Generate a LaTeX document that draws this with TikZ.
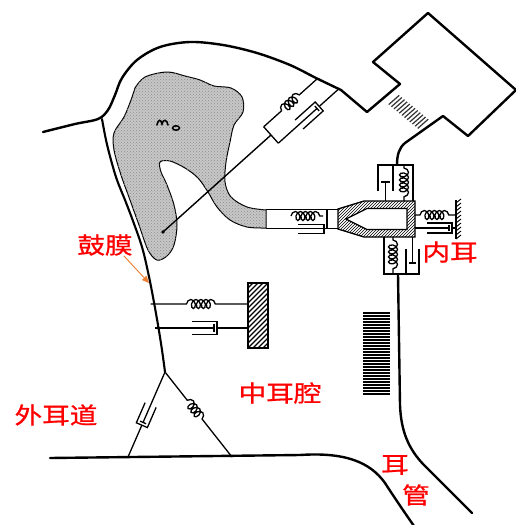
\documentclass[tikz,border=0pt]{standalone}
\usepackage{fontspec}
\newfontfamily\cjk[FakeBold=0.8]{Noto Sans CJK SC}
\usetikzlibrary{decorations.pathmorphing,patterns,arrows.meta,calc}
\definecolor{labelred}{RGB}{255,0,0}
\definecolor{arroworange}{RGB}{237,125,49}
\newcommand\wlabel[1]{\scalebox{1.2}[1]{#1}}
\tikzset{
  wall/.style={line width=2.4pt, line cap=round, line join=round},
  membrane/.style={line width=2.1pt, line cap=round},
  mech/.style={line width=1.3pt},
  coilspring/.style 2 args={mech, decorate, decoration={coil, amplitude=4.5pt,
      segment length=5pt, aspect=0.7, pre length=#1, post length=#2}},
  lbl/.style={text=labelred, inner sep=0pt, font=\cjk\fontsize{23}{23}\selectfont},
  pics/dashpot/.style n args={4}{code={
    \draw[mech] (0,0) -- ({#2-3},0);
    \draw[mech] ({#2-3},{-0.55*#4}) -- ({#2-3},{0.55*#4});
    \draw[mech] (#1,#4) -- (#2,#4) -- (#2,-#4) -- (#1,-#4);
    \draw[mech] (#2,0) -- (#3,0);
  }}
}
% dashpot between two named points: open end, closed end (distances from the first point), half width
\newcommand\damper[5]{%
  \path let \p1=($(#2)-(#1)$), \n1={atan2(\y1,\x1)}, \n2={veclen(\x1,\y1)} in
    pic[rotate=\n1] at (#1) {dashpot={#3}{#4}{\n2}{#5}};
}
\begin{document}
\begin{tikzpicture}[x=1pt,y=-1pt]
\fill[white] (0,0) rectangle (515,525);
\useasboundingbox (0,0) rectangle (515,525);

% ---------- ossicular chain (shaded) ----------
\filldraw[fill=black!22, line width=1pt]
  plot[smooth, tension=0.55] coordinates {(135,88) (145,77) (167,72) (185,76) (200,80) (214,86) (231,88) (242,97) (243,112) (234,125) (230,142) (226,162) (225,182) (231,197) (247,207) (266,210)}
  -- plot[smooth, tension=0.55] coordinates {(266,228) (247,227) (230,220) (217,207) (208,192) (198,178) (185,168) (170,161) (160,162) (161,172) (167,185) (174,205) (177,225) (174,245) (167,256) (157,260) (148,250) (139,225) (130,200) (121,175) (114,150) (114,133) (124,117) (131,100) (135,88)}
  -- cycle;
\fill[pattern=crosshatch dots, pattern color=black!45]
  plot[smooth, tension=0.55] coordinates {(135,88) (145,77) (167,72) (185,76) (200,80) (214,86) (231,88) (242,97) (243,112) (234,125) (230,142) (226,162) (225,182) (231,197) (247,207) (266,210)}
  -- plot[smooth, tension=0.55] coordinates {(266,228) (247,227) (230,220) (217,207) (208,192) (198,178) (185,168) (170,161) (160,162) (161,172) (167,185) (174,205) (177,225) (174,245) (167,256) (157,260) (148,250) (139,225) (130,200) (121,175) (114,150) (114,133) (124,117) (131,100) (135,88)}
  -- cycle;
% small mark on the head
\draw[line width=1.6pt, line cap=round] (157,125) .. controls (158,119) and (161,119) .. (162,124)
  .. controls (163,119) and (167,119) .. (168,125);
\draw[line width=1.5pt] (176,128) ellipse [x radius=3.5, y radius=2.2];

% ---------- outer walls ----------
\draw[wall] plot[smooth, tension=0.55] coordinates {(43,132) (75,124) (98,119) (108,110) (115,95) (122,78) (137,60) (160,47) (190,42) (223,45) (257,53) (290,65) (316,78) (341,90)}
  -- (367,112) -- (400,84) -- (373,62) -- (428,13) -- (516,90) -- (468,136) -- (443,116) -- (405,143)
  .. controls (399,148) and (397,155) .. (397,165);
% ligament stripes between the two parts of the upper block
\foreach \k in {0,...,11}{
  \pgfmathsetmacro\pp{8+\k*37/11}
  \pgfmathsetmacro\cc{15-6*\k/11}
  \draw[line width=1.2pt, black!80]
    ({400+\pp*0.661-(\cc-7)*0.752},{84+\pp*0.752+(\cc-7)*0.661}) --
    ({400+\pp*0.661-(\cc+7)*0.752},{84+\pp*0.752+(\cc+7)*0.661});
}
% eardrum
\draw[membrane] plot[smooth, tension=0.6] coordinates {(102,119) (106,140) (111,160) (117,180) (125,200) (133,221) (142,247) (148,272) (153,297) (158,325) (162,350) (165,372)};
% floor of the canal and the tube
\draw[wall] (50,458) -- (300,455) .. controls (345,452) and (370,462) .. (385,483)
  .. controls (396,500) and (405,513) .. (414,526);
% right wall down to the tube
\draw[wall] (398,274) -- (400,405) .. controls (401,432) and (409,449) .. (423,464) -- (472,513);
% round window lines
\foreach \i in {0,...,27}
  \draw[line width=1.2pt] (363,{313+\i*3}) -- (390,{313+\i*3});

% ---------- manubrium rod and its suspension ----------
\coordinate (rodEnd) at (163,232);
\coordinate (plate) at (271,135);
\coordinate (plU) at (263.7,126.8);
\coordinate (plL) at (278.3,143.2);
\coordinate (wU) at (317.3,78.7);
\coordinate (wL) at (339.3,88.4);
\draw[line width=1.4pt] (rodEnd) -- (plate);
\fill (rodEnd) circle (1.8);
\draw[mech] (plU) -- (plL);
\draw[coilspring={24pt}{20pt}] (plU) -- (wU);
\damper{plL}{wL}{28}{55}{6}

% ---------- middle suspension to the block ----------
\coordinate (msA) at (150.5,304);
\coordinate (msB) at (248,304);
\coordinate (mdA) at (155,328);
\coordinate (mdB) at (248,328);
\draw[coilspring={36pt}{30pt}] (msA) -- (msB);
\damper{mdA}{mdB}{37}{62}{6.5}
\begin{scope}
  \clip (248,283) rectangle (268,348);
  \foreach \y in {285,290,...,375}
    \draw[line width=1.1pt] (246,\y) -- (270,{\y-24});
\end{scope}
\draw[line width=2.2pt] (248,283) rectangle (268,348);

% ---------- triangle at the lower edge of the eardrum ----------
\coordinate (apex) at (165,372);
\coordinate (footL) at (128,457);
\coordinate (footR) at (232,457);
\damper{apex}{footL}{36}{58}{6}
\draw[coilspring={36pt}{44pt}] (apex) -- (footR);

% ---------- stapes bar, footplate and inner ear ----------
\draw[mech] (266,209.5) -- (338,209.5);
\draw[mech] (266,228.5) -- (338,228.5);
\draw[mech] (327,209.5) -- (327,228.5);
\draw[coilspring={0pt}{0pt}] (291,216) -- (323,216);
\draw[mech] (298,224.5) -- (324,224.5) -- (324,233.5) -- (298,233.5);
\fill[pattern=north east lines, even odd rule]
  (338,209) -- (364,201) -- (415,201) -- (415,237) -- (364,237) -- (338,229) -- cycle
  (346,219) -- (367,208.5) -- (407,208.5) -- (407,229.5) -- (367,229.5) -- cycle;
\draw[mech]
  (338,209) -- (364,201) -- (415,201) -- (415,237) -- (364,237) -- (338,229) -- cycle
  (346,219) -- (367,208.5) -- (407,208.5) -- (407,229.5) -- (367,229.5) -- cycle;
% upper bellows
\draw[mech] (378,191) -- (378,165) -- (413,165) -- (413,201);
\draw[mech] (393,165) -- (393,191);
\draw[mech] (381,182) -- (390,182) (385.5,182) -- (385.5,201);
\draw[coilspring={3pt}{3pt}] (404,165) -- (404,201);
% lower bellows
\draw[mech] (384,237) -- (384,274) -- (419,274) -- (419,249);
\draw[mech] (406,249) -- (406,274);
\draw[mech] (412.5,237) -- (412.5,263) (409,263) -- (416,263);
\draw[coilspring={3pt}{3pt}] (393,237) -- (393,274);
% right suspension to the fixed wall
\coordinate (rsA) at (415,215);
\coordinate (rsB) at (456,215);
\coordinate (rdA) at (415,228);
\coordinate (rdB) at (456,228);
\draw[coilspring={5pt}{6pt}] (rsA) -- (rsB);
\damper{rdA}{rdB}{12}{37}{5}
\draw[line width=1.8pt] (456,200) -- (456,239);
\foreach \y in {203,207,...,239}
  \draw[line width=0.9pt] (456,\y) -- (461,{\y-4});

% ---------- labels ----------
\node[lbl] (drum) at (105,245) {\wlabel{鼓膜}};
\node[lbl] (canal) at (56,415) {\wlabel{外耳道}};
\node[lbl] (cavity) at (280,393) {\wlabel{中耳腔}};
\node[lbl] (inner) at (450,252) {\wlabel{内耳}};
\node[lbl] (tubeA) at (395,465) {\wlabel{耳}};
\node[lbl] (tubeB) at (416,495) {\wlabel{管}};
\coordinate (drumPt) at (149,283);
\draw[arroworange, line width=0.9pt, -{Triangle[length=7pt,width=6pt]}]
  ([xshift=-9pt]drum.south east) -- (drumPt);
\end{tikzpicture}
\end{document}
